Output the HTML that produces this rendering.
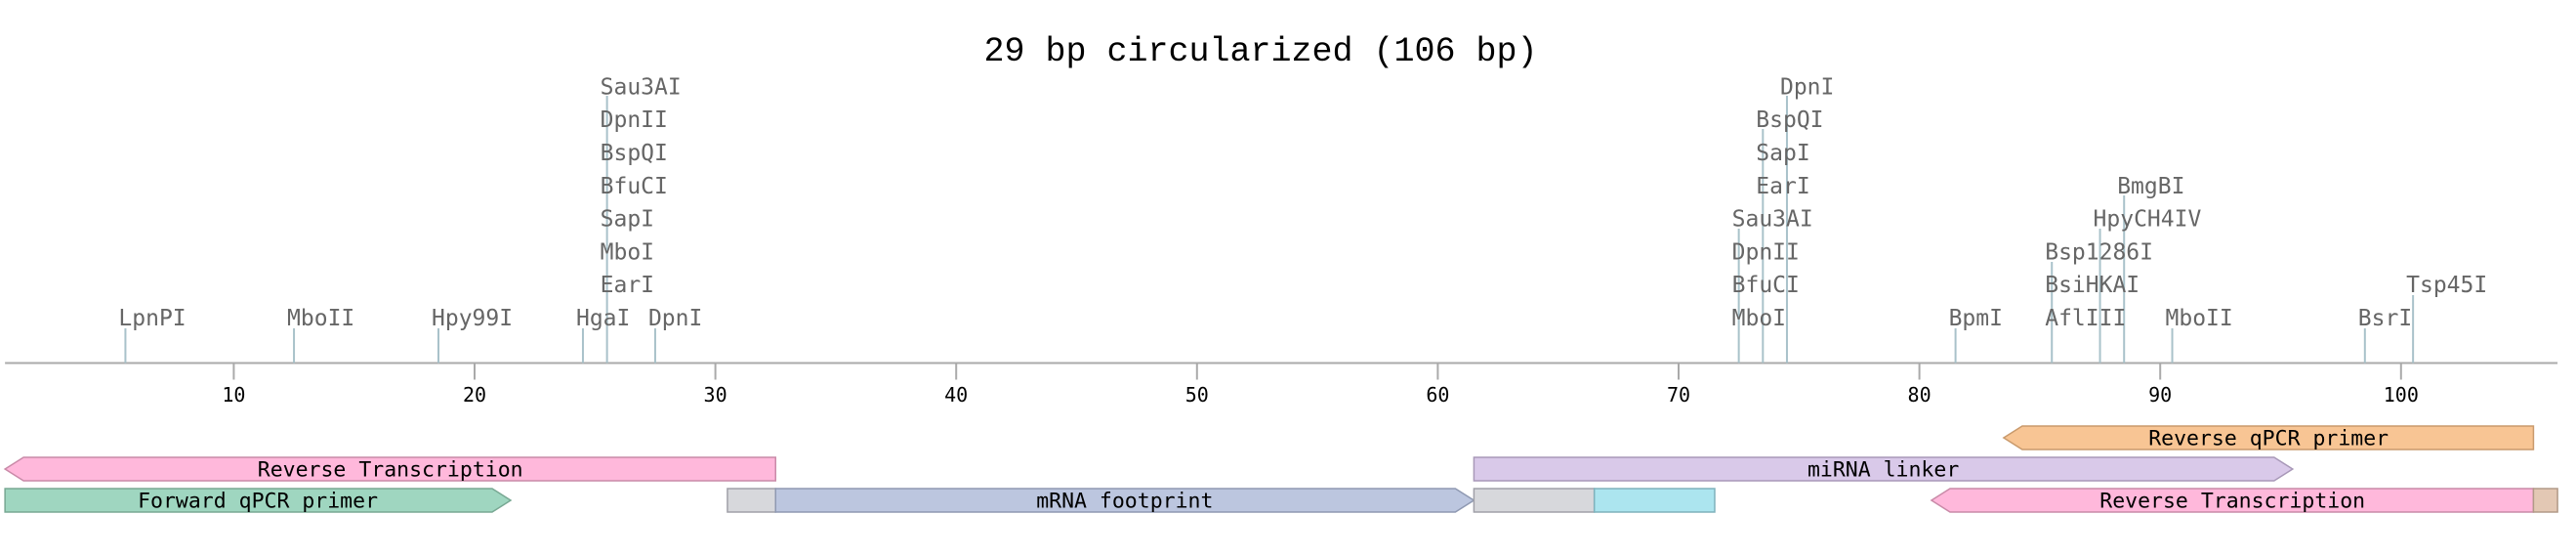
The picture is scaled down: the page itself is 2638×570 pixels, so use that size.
<!DOCTYPE html>
<html><head><meta charset="utf-8">
<style>
html,body{margin:0;padding:0;background:#fff;}
svg{display:block;font-family:"DejaVu Sans Mono","Liberation Mono",monospace;}
</style></head>
<body>
<svg id="chart" width="2638" height="570" viewBox="0 0 2638 570" xmlns="http://www.w3.org/2000/svg">
<text x="1291" y="62" text-anchor="middle" font-size="35" fill="#000" font-family="Liberation Mono, monospace">29 bp circularized (106 bp)</text>
<g id="axis"></g>
<g id="sites"></g>
<g id="features"></g>
</svg>
<script>
const seqLength = 106;
const tickValues = [10,20,30,40,50,60,70,80,90,100];
const siteNames = ["LpnPI","MboII","Hpy99I","HgaI","DpnI",
 "EarI","MboI","SapI","BfuCI","BspQI","DpnII","Sau3AI",
 "MboI","BfuCI","DpnII","Sau3AI","EarI","SapI","BspQI","DpnI",
 "BpmI","AflIII","BsiHKAI","Bsp1286I","HpyCH4IV","BmgBI","MboII","BsrI","Tsp45I"];
const sitePositions = [5.5,12.5,18.5,24.5,27.5,
 25.5,25.5,25.5,25.5,25.5,25.5,25.5,
 72.5,72.5,72.5,72.5,73.5,73.5,73.5,74.5,
 81.5,85.5,85.5,85.5,87.5,88.5,90.5,98.5,100.5];
const siteRows = [1,1,1,1,1,
 2,3,4,5,6,7,8,
 1,2,3,4,5,6,7,8,
 1,1,2,3,4,5,1,1,2];
const featureNames = ["Reverse qPCR primer","Reverse Transcription","miRNA linker","Forward qPCR primer","","mRNA footprint","","","Reverse Transcription",""];
const featureStarts = [83.5,0.5,61.5,0.5,30.5,32.5,61.5,66.5,80.5,105.5];
const featureEnds = [105.5,32.5,95.5,21.5,32.5,61.5,66.5,71.5,105.5,106.5];
const featureLanes = [0,1,1,2,2,2,2,2,2,2];
const featureDirs = [-1,-1,1,1,0,1,0,0,-1,0];
const featureFills = ["#f8c594","#ffb8db","#d9c9e9","#9fd6c0","#d7d8dc","#bcc6df","#d7d8dc","#ace5ef","#ffb8db","#e3c8b4"];
const featureStrokes = ["#c99a6c","#c98aa8","#a898b8","#78a893","#a0a0a8","#8f99b2","#a0a0a8","#7fb2bc","#c98aa8","#b29a88"];

const NS="http://www.w3.org/2000/svg";
const xs = n => -7.2 + 24.66*n;
const AXY = 371.5;
function mk(tag, attrs, parent){const e=document.createElementNS(NS,tag);for(const k in attrs)e.setAttribute(k,attrs[k]);parent.appendChild(e);return e;}

const axis=document.getElementById('axis');
const al=mk('line',{x1:xs(0.5),x2:xs(seqLength+0.5),y1:AXY,y2:AXY,stroke:'#aaa','stroke-width':2},axis);


tickValues.forEach(v=>{
  const t=mk('line',{x1:xs(v),x2:xs(v),y1:AXY,y2:AXY+17,stroke:'#aaa','stroke-width':2},axis);
  
  
  const l=mk('text',{x:xs(v),y:411,'text-anchor':'middle','font-size':20,fill:'#000'},axis);
  
  
  l.textContent=v;
});

const sites=document.getElementById('sites');
const maxRow={};
sitePositions.forEach((p,i)=>{maxRow[p]=Math.max(maxRow[p]||0,siteRows[i]);});
Object.keys(maxRow).forEach(p=>{
  const r=maxRow[p];
  const s=mk('line',{x1:xs(+p),x2:xs(+p),y1:336-(r-1)*34,y2:AXY,stroke:'#a9c2ca','stroke-width':2},sites);
  
  
});
siteNames.forEach((nm,i)=>{
  const t=mk('text',{x:xs(sitePositions[i])-7,y:333-(siteRows[i]-1)*33.8,'font-size':23,fill:'#666'},sites);
  
  
  t.textContent=nm;
});

const feats=document.getElementById('features');
featureNames.forEach((nm,i)=>{
  const x0=xs(featureStarts[i]), x1=xs(featureEnds[i]);
  const y0=436+featureLanes[i]*32, y1=y0+24, ym=(y0+y1)/2, hw=19;
  let d;
  if(featureDirs[i]===1) d=`M${x0},${y0}H${x1-hw}L${x1},${ym}L${x1-hw},${y1}H${x0}Z`;
  else if(featureDirs[i]===-1) d=`M${x1},${y0}H${x0+hw}L${x0},${ym}L${x0+hw},${y1}H${x1}Z`;
  else d=`M${x0},${y0}H${x1}V${y1}H${x0}Z`;
  const p=mk('path',{d:d,fill:featureFills[i],stroke:featureStrokes[i],'stroke-width':1.5},feats);
  
  
  if(nm){
    const t=mk('text',{x:(x0+x1)/2,y:ym+7.5,'text-anchor':'middle','font-size':21.5,fill:'#000'},feats);
    
    
    t.textContent=nm;
  }
});
</script>
</body></html>
